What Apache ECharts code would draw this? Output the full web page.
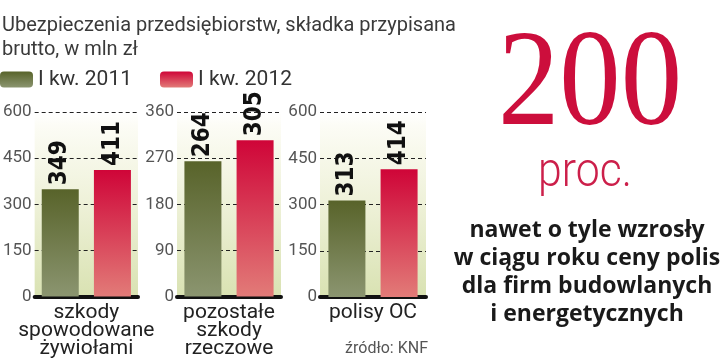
<!DOCTYPE html>
<html><head><meta charset="utf-8">
<script src="https://cdn.jsdelivr.net/npm/echarts@6/dist/echarts.min.js"></script>
<style>html,body{margin:0;padding:0;background:#fff}#c{width:720px;height:359px}</style>
</head><body><div id="c"></div>
<script>
const seriesNames = ['I kw. 2011', 'I kw. 2012'];
const categories = ['szkody\nspowodowane\nżywiołami', 'pozostałe\nszkody\nrzeczowe', 'polisy OC'];
const values2011 = [349, 264, 313];
const values2012 = [411, 305, 414];
const axisMax = [600, 360, 600];
const axisInterval = [150, 90, 150];
const titleLines = ['Ubezpieczenia przedsiębiorstw, składka przypisana', 'brutto, w mln zł'];
const bigNumber = '200';
const bigUnit = 'proc.';
const noteLines = ['nawet o tyle wzrosły', 'w ciągu roku ceny polis', 'dla firm budowlanych', 'i energetycznych'];
const sourceText = 'źródło: KNF';

const font = 'Roboto, "Liberation Sans", sans-serif';
const green = {type:'linear',x:0,y:0,x2:0,y2:1,colorStops:[{offset:0,color:'#58632a'},{offset:1,color:'#8b9570'}]};
const red = {type:'linear',x:0,y:0,x2:0,y2:1,colorStops:[{offset:0,color:'#cf0538'},{offset:1,color:'#e27b78'}]};
const bg = {type:'linear',x:0,y:0,x2:0,y2:1,colorStops:[{offset:0,color:'#ffffff'},{offset:0.08,color:'#fcfcf5'},{offset:0.5,color:'#eef1d8'},{offset:1,color:'#d9e2b2'}]};

const gridLefts = [34, 177, 320];
const gridWidths = [104, 104, 106];

const grids = [], xAxes = [], yAxes = [], series = [];
categories.forEach((cat, i) => {
  grids.push({left: gridLefts[i], width: gridWidths[i], top: 112, height: 185, show: true, backgroundColor: bg, borderWidth: 0});
  xAxes.push({type:'category', gridIndex:i, data:[cat],
    axisLine:{show:true, lineStyle:{color:'#111', width:4}}, axisTick:{show:false},
    axisLabel:{fontSize:21, lineHeight:18, color:'#222', fontFamily:font, margin:7, interval:0}});
  yAxes.push({type:'value', gridIndex:i, min:0, max:axisMax[i], interval:axisInterval[i],
    axisLine:{show:false}, axisTick:{show:false},
    axisLabel:{fontSize:17, color:'#555', fontFamily:font, margin:3},
    splitLine:{show:true, lineStyle:{color:'#222', type:[4,3], width:1}}});
  const lbl = {show:true, position:'top', rotate:90, align:'left', verticalAlign:'middle', distance:4,
    fontSize:24, fontWeight:'bold', color:'#111', fontFamily:'"DejaVu Sans Condensed", "DejaVu Sans", sans-serif'};
  series.push({name:seriesNames[0], type:'bar', xAxisIndex:i, yAxisIndex:i, data:[values2011[i]],
    barWidth:37, barGap:'41%', itemStyle:{color:green}, label:lbl, z:3});
  series.push({name:seriesNames[1], type:'bar', xAxisIndex:i, yAxisIndex:i, data:[values2012[i]],
    barWidth:37, barGap:'41%', itemStyle:{color:red}, label:lbl, z:3});
});

const graphics = [];
titleLines.forEach((t, k) => graphics.push({type:'text', x:2, y:26 + k*24,
  style:{text:t, font:'20px ' + font, fill:'#3a3a3a', align:'left', verticalAlign:'middle'}}));
graphics.push({type:'text', x:590, y:88, scaleX:0.89,
  style:{text:bigNumber, font:'138px "Liberation Serif", serif', fill:'#cc0e3c', align:'center', verticalAlign:'middle'}});
graphics.push({type:'text', x:585, y:174, scaleX:0.89,
  style:{text:bigUnit, font:'300 48px Roboto, sans-serif', fill:'#cc1f4a', align:'center', verticalAlign:'middle'}});
noteLines.forEach((t, k) => graphics.push({type:'text', x:587, y:230 + k*28,
  style:{text:t, font:'bold 23px "Open Sans", sans-serif', fill:'#1a1a1a', align:'center', verticalAlign:'middle'}}));
graphics.push({type:'text', x:428, y:349,
  style:{text:sourceText, font:'16px ' + font, fill:'#555', align:'right', verticalAlign:'middle'}});

const chart = echarts.init(document.getElementById('c'), null, {renderer:'canvas'});
chart.setOption({
  animation:false,
  legend:[
    {data:[seriesNames[0]], left:0, top:69, padding:0, icon:'roundRect', itemWidth:33, itemHeight:16, itemGap:0,
      textStyle:{fontSize:21, color:'#333', fontFamily:font}, selectedMode:false},
    {data:[seriesNames[1]], left:160, top:69, padding:0, icon:'roundRect', itemWidth:33, itemHeight:16, itemGap:0,
      textStyle:{fontSize:21, color:'#333', fontFamily:font}, selectedMode:false}
  ],
  grid:grids, xAxis:xAxes, yAxis:yAxes, series:series, graphic:graphics
});
</script></body></html>
